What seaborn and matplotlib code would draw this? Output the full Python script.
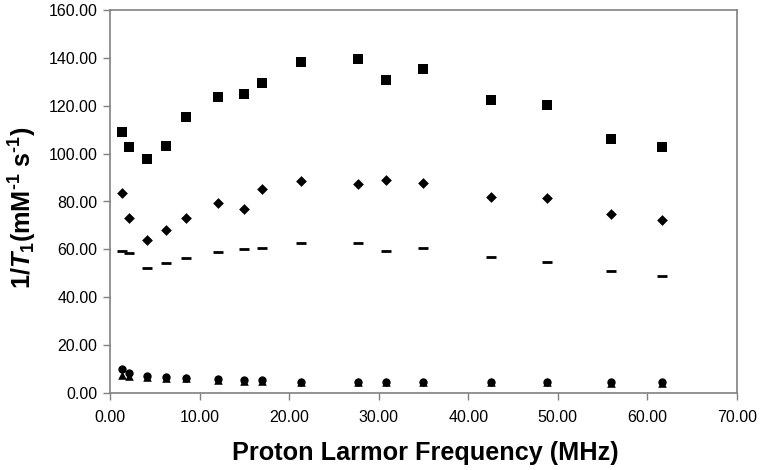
import pandas as pd
import numpy as np
import matplotlib.pyplot as plt
import seaborn as sns

# 频率 (MHz)
freq = [1.37, 2.1, 4.15, 6.3, 8.5, 12.05, 14.96, 17.0,
        21.3, 27.64, 30.85, 34.9, 42.5, 48.75, 55.95, 61.6]

# 各样品的 1/T1
r_square = [108.9, 102.9, 97.6, 103.2, 115.2, 123.6, 125.0, 129.6,
            138.3, 139.4, 130.6, 135.2, 122.3, 120.2, 106.2, 102.8]
r_diamond = [83.5, 73.2, 64.0, 68.2, 73.2, 79.5, 76.7, 85.2,
             88.7, 87.2, 89.1, 87.7, 81.9, 81.3, 74.8, 72.1]
r_dash = [59.4, 58.3, 52.2, 54.2, 56.3, 58.8, 60.0, 60.6,
          62.5, 62.5, 59.4, 60.4, 56.8, 54.7, 51.1, 49.0]
r_circle = [9.9, 8.2, 7.2, 6.7, 6.4, 5.8, 5.4, 5.4,
            4.7, 4.7, 4.7, 4.7, 4.7, 4.7, 4.4, 4.5]
r_triangle = [7.6, 7.2, 6.6, 6.3, 6.1, 5.6, 5.2, 5.2,
              4.6, 4.6, 4.7, 4.8, 4.8, 4.7, 4.0, 4.1]

sns.set_style("ticks")
plt.rcParams['font.family'] = ['Liberation Sans', 'DejaVu Sans']
plt.rcParams['text.color'] = 'black'
plt.rcParams['axes.labelcolor'] = 'black'
plt.rcParams['mathtext.fontset'] = 'custom'
plt.rcParams['mathtext.rm'] = 'Liberation Sans:bold'
plt.rcParams['mathtext.it'] = 'Liberation Sans:bold:italic'
plt.rcParams['mathtext.bf'] = 'Liberation Sans:bold'

fig = plt.figure(figsize=(7.62, 4.70), dpi=100)
ax = fig.add_axes([110 / 762, 1 - 393 / 470, 627 / 762, 383 / 470])

series = [
    (r_square, 's', 44, None),
    (r_diamond, 'D', 30, None),
    (r_dash, '_', 45, 2.0),
    (r_circle, 'o', 36, None),
    (r_triangle, '^', 38, None),
]
for vals, mk, sz, lw in series:
    df = pd.DataFrame({'f': freq, 'r': vals})
    if lw is None:
        sns.scatterplot(data=df, x='f', y='r', marker=mk, s=sz, color='black',
                        linewidth=0, ax=ax, zorder=3)
    else:
        sns.scatterplot(data=df, x='f', y='r', marker=mk, s=sz, color='black',
                        linewidth=lw, ax=ax, zorder=3)

ax.set_xlim(0, 70)
ax.set_ylim(0, 160)
ax.set_xticks(np.arange(0, 71, 10))
ax.set_yticks(np.arange(0, 161, 20))
ax.xaxis.set_major_formatter(plt.FormatStrFormatter('%.2f'))
ax.yaxis.set_major_formatter(plt.FormatStrFormatter('%.2f'))
ax.tick_params(axis='both', direction='out', length=5, width=1,
               color='#808080', labelsize=11.5, labelcolor='black')
ax.tick_params(axis='x', pad=7)
ax.tick_params(axis='y', pad=4)
for sp in ax.spines.values():
    sp.set_visible(True)
    sp.set_color('#808080')
    sp.set_linewidth(1.2)

ax.set_xlabel('Proton Larmor Frequency (MHz)', fontsize=18.2,
              fontweight='bold', va='center')
ax.xaxis.set_label_coords(0.5 + (425 - 423.5) / 627, (393 - 453) / 383)
ax.set_ylabel(r'1/$T_{1}$(mM$^{\text{-1}}$ s$^{\text{-1}}$)', fontsize=18.2,
              fontweight='bold', va='center')
ax.yaxis.set_label_coords((23 - 110) / 627, (393 - 208) / 383)

fig.savefig('out.png', dpi=100)
